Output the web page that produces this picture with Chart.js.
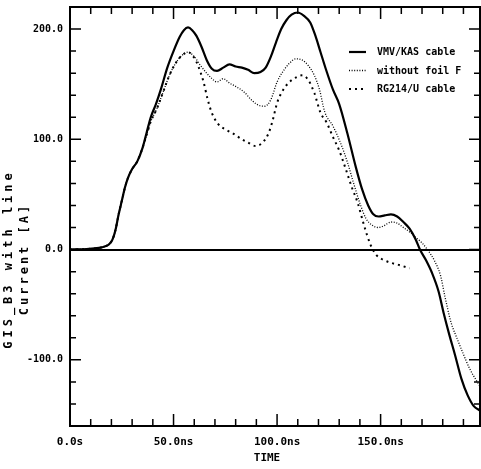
<!DOCTYPE html>
<html>
<head>
<meta charset="utf-8">
<script src="https://cdn.jsdelivr.net/npm/chart.js@4.4.1/dist/chart.umd.min.js"></script>
<style>
  html, body { margin: 0; padding: 0; background: #fff; }
</style>
</head>
<body>
<canvas id="chart" width="481" height="469"></canvas>
<script>
// time in ns, current in A
const vmvTime = [0, 8, 14, 17, 19, 20.5, 22, 23.5, 25, 26.5, 28, 30, 32.5, 35, 37, 39, 41.5, 44, 47, 50,
  53, 55, 57, 59, 61, 63.5, 66, 68.5, 71, 74, 77, 80, 83, 86, 89, 92, 94.5, 97, 99.5, 102,
  104.5, 107, 110, 113, 116, 118.5, 121, 123.5, 127, 130, 134, 138, 141, 144, 146.5, 149, 152, 155, 158, 161,
  164, 167, 169, 172, 175, 178, 180.5, 183, 186, 189, 192, 195, 198];
const vmvCurrent = [0, 0.5, 1.5, 3, 5, 9, 18, 32, 44, 56, 65, 73, 80, 92, 106, 120, 132, 146, 165, 180,
  193, 199, 201.5, 199, 194, 184, 172, 164, 162, 165, 168, 166, 165, 163, 160, 161, 165, 175, 188, 200,
  208, 213, 215, 212, 206, 194, 179, 164, 145, 132, 105, 75, 55, 40, 32, 30, 31, 32, 30, 25,
  19, 9, 0, -10, -22, -38, -58, -76, -96, -117, -132, -142, -146];

const foilTime = [0, 8, 14, 17, 19, 20.5, 22, 23.5, 25, 26.5, 28, 30, 32.5, 35, 37, 39, 42, 45, 48, 51,
  54, 57, 60, 63, 66, 68, 71, 74, 77, 80, 84, 88, 91, 94, 97, 100, 103, 106, 109, 112,
  115, 118, 120.5, 123, 127, 131, 134, 137, 140, 143, 146, 149, 152, 155, 158, 161, 164, 167, 170, 173,
  176, 179, 181, 184, 187, 190, 193, 196, 198];
const foilCurrent = [0, 0.5, 1.5, 3, 5, 9, 18, 32, 44, 56, 65, 73, 80, 92, 104, 116, 128, 143, 158, 169,
  176, 179, 175, 167, 160, 156, 152, 155, 151, 148, 143, 135, 131, 130, 136, 152, 162, 169, 173, 172,
  167, 158, 145, 125, 112, 95, 79, 60, 42, 28, 22, 20, 22, 25, 24, 20, 16, 11, 6, -1,
  -10, -24, -42, -66, -81, -95, -108, -118, -124];

const rgTime = [0, 8, 14, 17, 19, 20.5, 22, 23.5, 25, 26.5, 28, 30, 32.5, 35, 37, 39, 42, 45, 48, 51,
  54, 57, 60, 62, 64.5, 66.5, 68.5, 71.5, 75, 79, 83, 86, 89.5, 93, 96, 98, 100, 103, 106, 109,
  112, 115, 118, 121, 124, 127, 130, 133, 136, 139, 142, 145, 148, 151, 155, 159, 164];
const rgCurrent = [0, 0.5, 1.5, 3, 5, 9, 18, 32, 44, 56, 65, 73, 80, 92, 104, 116, 128, 143, 158, 169,
  176, 179, 174, 166, 152, 136, 124, 114, 109, 105, 100, 97, 94, 97, 106, 118, 133, 145, 152, 156,
  158, 154, 142, 124, 115, 102, 90, 74, 57, 42, 22, 5, -5, -9, -12, -14, -17];

const seriesNames = ['VMV/KAS cable', 'without foil F', 'RG214/U cable'];
const yTitleLines = ['GIS_B3 with line', 'Current [A]'];
const xTitle = 'TIME';

const FONT = '"DejaVu Sans Mono", monospace';

function points(ts, vs) {
  return ts.map((t, i) => ({ x: t, y: vs[i] }));
}

// frame, inward tick marks, axis titles and the legend box
const plotDecor = {
  id: 'plotDecor',
  afterDraw(chart) {
    const { ctx, chartArea: a, scales: { x, y } } = chart;
    ctx.save();
    ctx.strokeStyle = '#000';
    ctx.lineWidth = 2;
    ctx.strokeRect(a.left, a.top, a.right - a.left, a.bottom - a.top);

    ctx.lineWidth = 1.5;
    ctx.beginPath();
    y.ticks.forEach(t => {
      const py = y.getPixelForValue(t.value);
      const len = t.value % 100 === 0 ? 11 : 6;
      ctx.moveTo(a.left, py); ctx.lineTo(a.left + len, py);
      ctx.moveTo(a.right, py); ctx.lineTo(a.right - len, py);
    });
    x.ticks.forEach(t => {
      const px = x.getPixelForValue(t.value);
      const len = t.value % 50 === 0 ? 12 : 7;
      ctx.moveTo(px, a.top); ctx.lineTo(px, a.top + len);
      ctx.moveTo(px, a.bottom); ctx.lineTo(px, a.bottom - len);
    });
    ctx.stroke();

    // axis titles
    ctx.fillStyle = '#000';
    ctx.textAlign = 'center';
    ctx.textBaseline = 'middle';
    ctx.font = 'bold 11px ' + FONT;
    ctx.fillText(xTitle, 267, 458);

    ctx.save();
    ctx.translate(0, 259);
    ctx.rotate(-Math.PI / 2);
    ctx.font = 'bold 12px ' + FONT;
    ctx.letterSpacing = '4px';
    ctx.fillText(yTitleLines[0], 0, 9);
    ctx.letterSpacing = '3px';
    ctx.fillText(yTitleLines[1], 0, 25);
    ctx.restore();

    // legend
    ctx.font = 'bold 10px ' + FONT;
    ctx.textAlign = 'left';
    chart.data.datasets.forEach((ds, i) => {
      const ly = 52 + i * 18.5;
      ctx.save();
      ctx.lineWidth = ds.borderWidth;
      ctx.setLineDash(ds.borderDash || []);
      ctx.beginPath();
      ctx.moveTo(349, ly);
      ctx.lineTo(366, ly);
      ctx.stroke();
      ctx.restore();
      ctx.fillText(ds.label, 377, ly + 0.5);
    });
    ctx.restore();
  }
};

new Chart(document.getElementById('chart').getContext('2d'), {
  type: 'line',
  data: {
    datasets: [
      {
        label: seriesNames[0],
        data: points(vmvTime, vmvCurrent),
        borderColor: '#000',
        borderWidth: 2.2,
        pointRadius: 0,
        cubicInterpolationMode: 'monotone'
      },
      {
        label: seriesNames[1],
        data: points(foilTime, foilCurrent),
        borderColor: '#000',
        borderWidth: 1.3,
        borderDash: [1, 1.6],
        pointRadius: 0,
        cubicInterpolationMode: 'monotone'
      },
      {
        label: seriesNames[2],
        data: points(rgTime, rgCurrent),
        borderColor: '#000',
        borderWidth: 2,
        borderDash: [2, 4],
        pointRadius: 0,
        cubicInterpolationMode: 'monotone'
      }
    ]
  },
  options: {
    responsive: false,
    animation: false,
    layout: { padding: { top: 7, right: 1, left: 0, bottom: 0 } },
    scales: {
      x: {
        type: 'linear',
        min: 0, max: 198,
        afterFit(s) { s.height = 43; s.paddingLeft = 0; s.paddingRight = 0; },
        grid: { drawOnChartArea: false, drawTicks: false },
        border: { display: false },
        ticks: {
          stepSize: 10,
          includeBounds: false,
          autoSkip: false,
          maxRotation: 0,
          padding: 10,
          color: '#000',
          font: { family: FONT, size: 11, weight: 'bold' },
          callback: v => v === 0 ? '0.0s' : (v % 50 === 0 ? v.toFixed(1) + 'ns' : '')
        }
      },
      y: {
        min: -160, max: 220,
        afterFit(s) { s.width = 70; s.paddingTop = 0; s.paddingBottom = 0; },
        grid: {
          drawTicks: false,
          lineWidth: 2,
          color: c => c.tick && c.tick.value === 0 ? '#000' : 'rgba(0,0,0,0)'
        },
        border: { display: false },
        ticks: {
          stepSize: 20,
          autoSkip: false,
          padding: 7,
          color: '#000',
          font: { family: FONT, size: 10, weight: 'bold' },
          callback: v => v % 100 === 0 ? v.toFixed(1) : ''
        }
      }
    },
    plugins: {
      legend: { display: false },
      tooltip: { enabled: false }
    }
  },
  plugins: [plotDecor]
});
</script>
</body>
</html>
